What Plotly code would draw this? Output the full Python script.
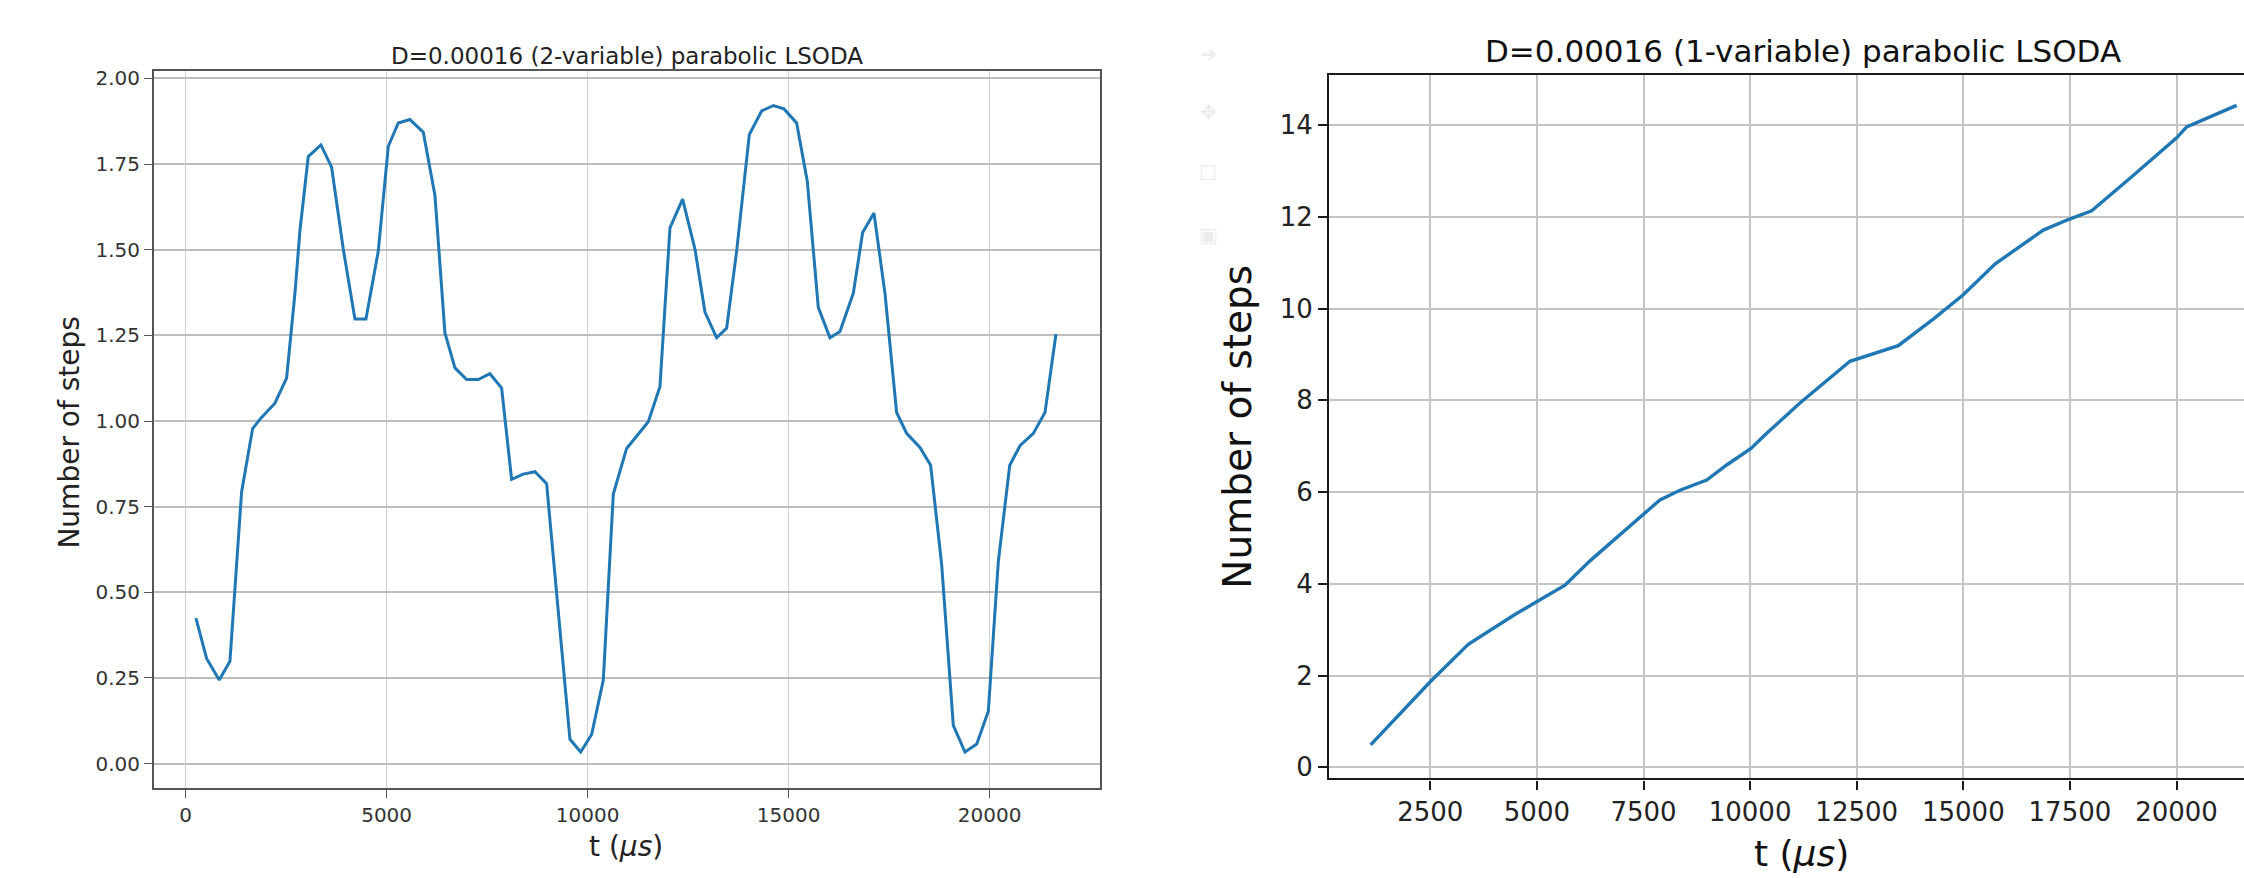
import plotly.graph_objects as go

W, H = 2244, 878

# ---- data: left panel (2-variable) ----
t_2var = [257, 522, 837, 1103, 1393, 1667, 1849, 2222, 2512, 2720, 2845, 3051, 3366, 3632,
          3922, 4212, 4486, 4793, 5042, 5290, 5580, 5912, 6202, 6451, 6700, 6990, 7280, 7570,
          7861, 8109, 8399, 8690, 8980, 9229, 9561, 9826, 10100, 10390, 10639, 10970, 11509,
          11799, 12048, 12363, 12670, 12919, 13209, 13458, 13707, 14022, 14328, 14619, 14884,
          15199, 15464, 15738, 16028, 16277, 16609, 16841, 17123, 17396, 17686, 17935, 18267,
          18532, 18806, 19096, 19386, 19680, 19967, 20216, 20500, 20755, 21087, 21377, 21650]
steps_2var = [0.425, 0.307, 0.244, 0.299, 0.793, 0.978, 1.005, 1.052, 1.125, 1.373, 1.557,
              1.772, 1.806, 1.741, 1.502, 1.298, 1.298, 1.496, 1.802, 1.870, 1.880, 1.843,
              1.659, 1.257, 1.155, 1.121, 1.121, 1.138, 1.096, 0.830, 0.845, 0.852, 0.817,
              0.507, 0.071, 0.034, 0.085, 0.244, 0.787, 0.920, 0.998, 1.100, 1.564, 1.648,
              1.502, 1.318, 1.243, 1.271, 1.496, 1.836, 1.905, 1.921, 1.911, 1.870, 1.700,
              1.332, 1.243, 1.261, 1.373, 1.550, 1.607, 1.373, 1.025, 0.964, 0.923, 0.871,
              0.582, 0.112, 0.034, 0.057, 0.153, 0.590, 0.871, 0.928, 0.964, 1.025, 1.254]

# ---- data: right panel (1-variable) ----
t_1var = [1102, 2493, 3391, 4447, 5033, 5659, 6245, 6791, 7495, 7886, 8356, 8982, 9451,
          10021, 10389, 11169, 12342, 13475, 14295, 14999, 15742, 16875, 17461, 18010,
          18908, 20003, 20237, 20861, 21410]
steps_1var = [0.49, 1.86, 2.68, 3.31, 3.63, 3.97, 4.50, 4.94, 5.50, 5.83, 6.04, 6.26, 6.59,
              6.95, 7.28, 7.94, 8.85, 9.19, 9.77, 10.30, 10.97, 11.71, 11.94, 12.13, 12.84,
              13.72, 13.96, 14.22, 14.43]

left_xticks = [0, 5000, 10000, 15000, 20000]
left_xticklabels = ["0", "5000", "10000", "15000", "20000"]
left_yticks = [0.0, 0.25, 0.5, 0.75, 1.0, 1.25, 1.5, 1.75, 2.0]
left_yticklabels = ["0.00", "0.25", "0.50", "0.75", "1.00", "1.25", "1.50", "1.75", "2.00"]
right_xticks = [2500, 5000, 7500, 10000, 12500, 15000, 17500, 20000]
right_xticklabels = ["2500", "5000", "7500", "10000", "12500", "15000", "17500", "20000"]
right_yticks = [0, 2, 4, 6, 8, 10, 12, 14]
right_yticklabels = ["0", "2", "4", "6", "8", "10", "12", "14"]

title_left = "D=0.00016 (2-variable) parabolic LSODA"
title_right = "D=0.00016 (1-variable) parabolic LSODA"
xlabel = "t (<i>μs</i>)"
ylabel = "Number of steps"

FONT = "DejaVu Sans"
BLUE = "#1f77b4"

fig = go.Figure()
fig.add_trace(go.Scatter(x=t_2var, y=steps_2var, mode="lines",
                         line=dict(color=BLUE, width=3.0), xaxis="x", yaxis="y",
                         showlegend=False, hoverinfo="skip"))
fig.add_trace(go.Scatter(x=t_1var, y=steps_1var, mode="lines",
                         line=dict(color=BLUE, width=3.4), xaxis="x2", yaxis="y2",
                         showlegend=False, hoverinfo="skip"))

def px_x(p):
    return p / W

def px_y(p):
    return 1 - p / H

L_dom_x = [px_x(153.8), px_x(1100)]
L_dom_y = [px_y(791), px_y(67.1)]
R_dom_x = [px_x(1329.3), 1.0]
R_dom_y = [px_y(781.5), px_y(70.4)]

common_ax = dict(showgrid=True, zeroline=False, ticks="outside", showline=True)

fig.update_layout(
    width=W, height=H,
    margin=dict(l=0, r=0, t=0, b=0),
    paper_bgcolor="white", plot_bgcolor="white",
    font=dict(family=FONT, color="#222222"),
    xaxis=dict(domain=L_dom_x, range=[-791, 22745], tickvals=left_xticks,
               ticktext=left_xticklabels,
               tickfont=dict(size=20, color="#333333"),
               gridcolor="#cfcfcf", gridwidth=1.3, linecolor="#555555", linewidth=1.6,
               tickcolor="#555555", ticklen=8, tickwidth=1.3, mirror=True, anchor="y",
               **common_ax),
    yaxis=dict(domain=L_dom_y, range=[-0.0708, 2.0205], tickvals=left_yticks,
               ticktext=left_yticklabels, tickfont=dict(size=20, color="#333333"),
               gridcolor="#bdbdbd", gridwidth=1.8, linecolor="#555555", linewidth=1.6,
               tickcolor="#555555", ticklen=8, tickwidth=1.3, mirror=True, anchor="x",
               **common_ax),
    xaxis2=dict(domain=R_dom_x, range=[132, 21582], tickvals=right_xticks,
                ticktext=right_xticklabels,
                tickfont=dict(size=26, color="#222222"),
                gridcolor="#c4c4c4", gridwidth=1.5, linecolor="#1a1a1a", linewidth=2.4,
                tickcolor="#1a1a1a", ticklen=9, tickwidth=1.6, mirror=True, anchor="y2",
                **common_ax),
    yaxis2=dict(domain=R_dom_y, range=[-0.244, 15.098], tickvals=right_yticks,
                ticktext=right_yticklabels,
                tickfont=dict(size=26, color="#222222"),
                gridcolor="#c4c4c4", gridwidth=1.8, linecolor="#1a1a1a", linewidth=2.4,
                tickcolor="#1a1a1a", ticklen=9, tickwidth=1.6, mirror=False, anchor="x2",
                **common_ax),
)

ann = []
ann.append(dict(text=title_left, x=px_x(627), y=px_y(51.5), xref="paper", yref="paper",
                xanchor="center", yanchor="middle", showarrow=False,
                font=dict(size=23, family=FONT, color="#222222")))
ann.append(dict(text=xlabel, x=px_x(626), y=px_y(850), xref="paper", yref="paper",
                xanchor="center", yanchor="middle", showarrow=False,
                font=dict(size=28, family=FONT, color="#222222")))
ann.append(dict(text=ylabel, x=px_x(70), y=px_y(432), xref="paper", yref="paper",
                xanchor="center", yanchor="middle", showarrow=False, textangle=-90,
                font=dict(size=28, family=FONT, color="#222222")))
ann.append(dict(text=title_right, x=px_x(1803), y=px_y(46), xref="paper", yref="paper",
                xanchor="center", yanchor="middle", showarrow=False,
                font=dict(size=31, family=FONT, color="#111111")))
ann.append(dict(text=xlabel, x=px_x(1801), y=px_y(857), xref="paper", yref="paper",
                xanchor="center", yanchor="middle", showarrow=False,
                font=dict(size=36, family=FONT, color="#111111")))
ann.append(dict(text=ylabel, x=px_x(1238), y=px_y(426), xref="paper", yref="paper",
                xanchor="center", yanchor="middle", showarrow=False, textangle=-90,
                font=dict(size=39, family=FONT, color="#111111")))
# faint notebook toolbar icons
for sym, yy in [("➔", 50), ("✥", 108), ("☐", 170), ("▣", 232)]:
    ann.append(dict(text=sym, x=px_x(1208), y=px_y(yy), xref="paper", yref="paper",
                    xanchor="center", yanchor="middle", showarrow=False,
                    font=dict(size=20, family=FONT, color="#ececec")))
fig.update_layout(annotations=ann)

fig.write_html("out.html")
